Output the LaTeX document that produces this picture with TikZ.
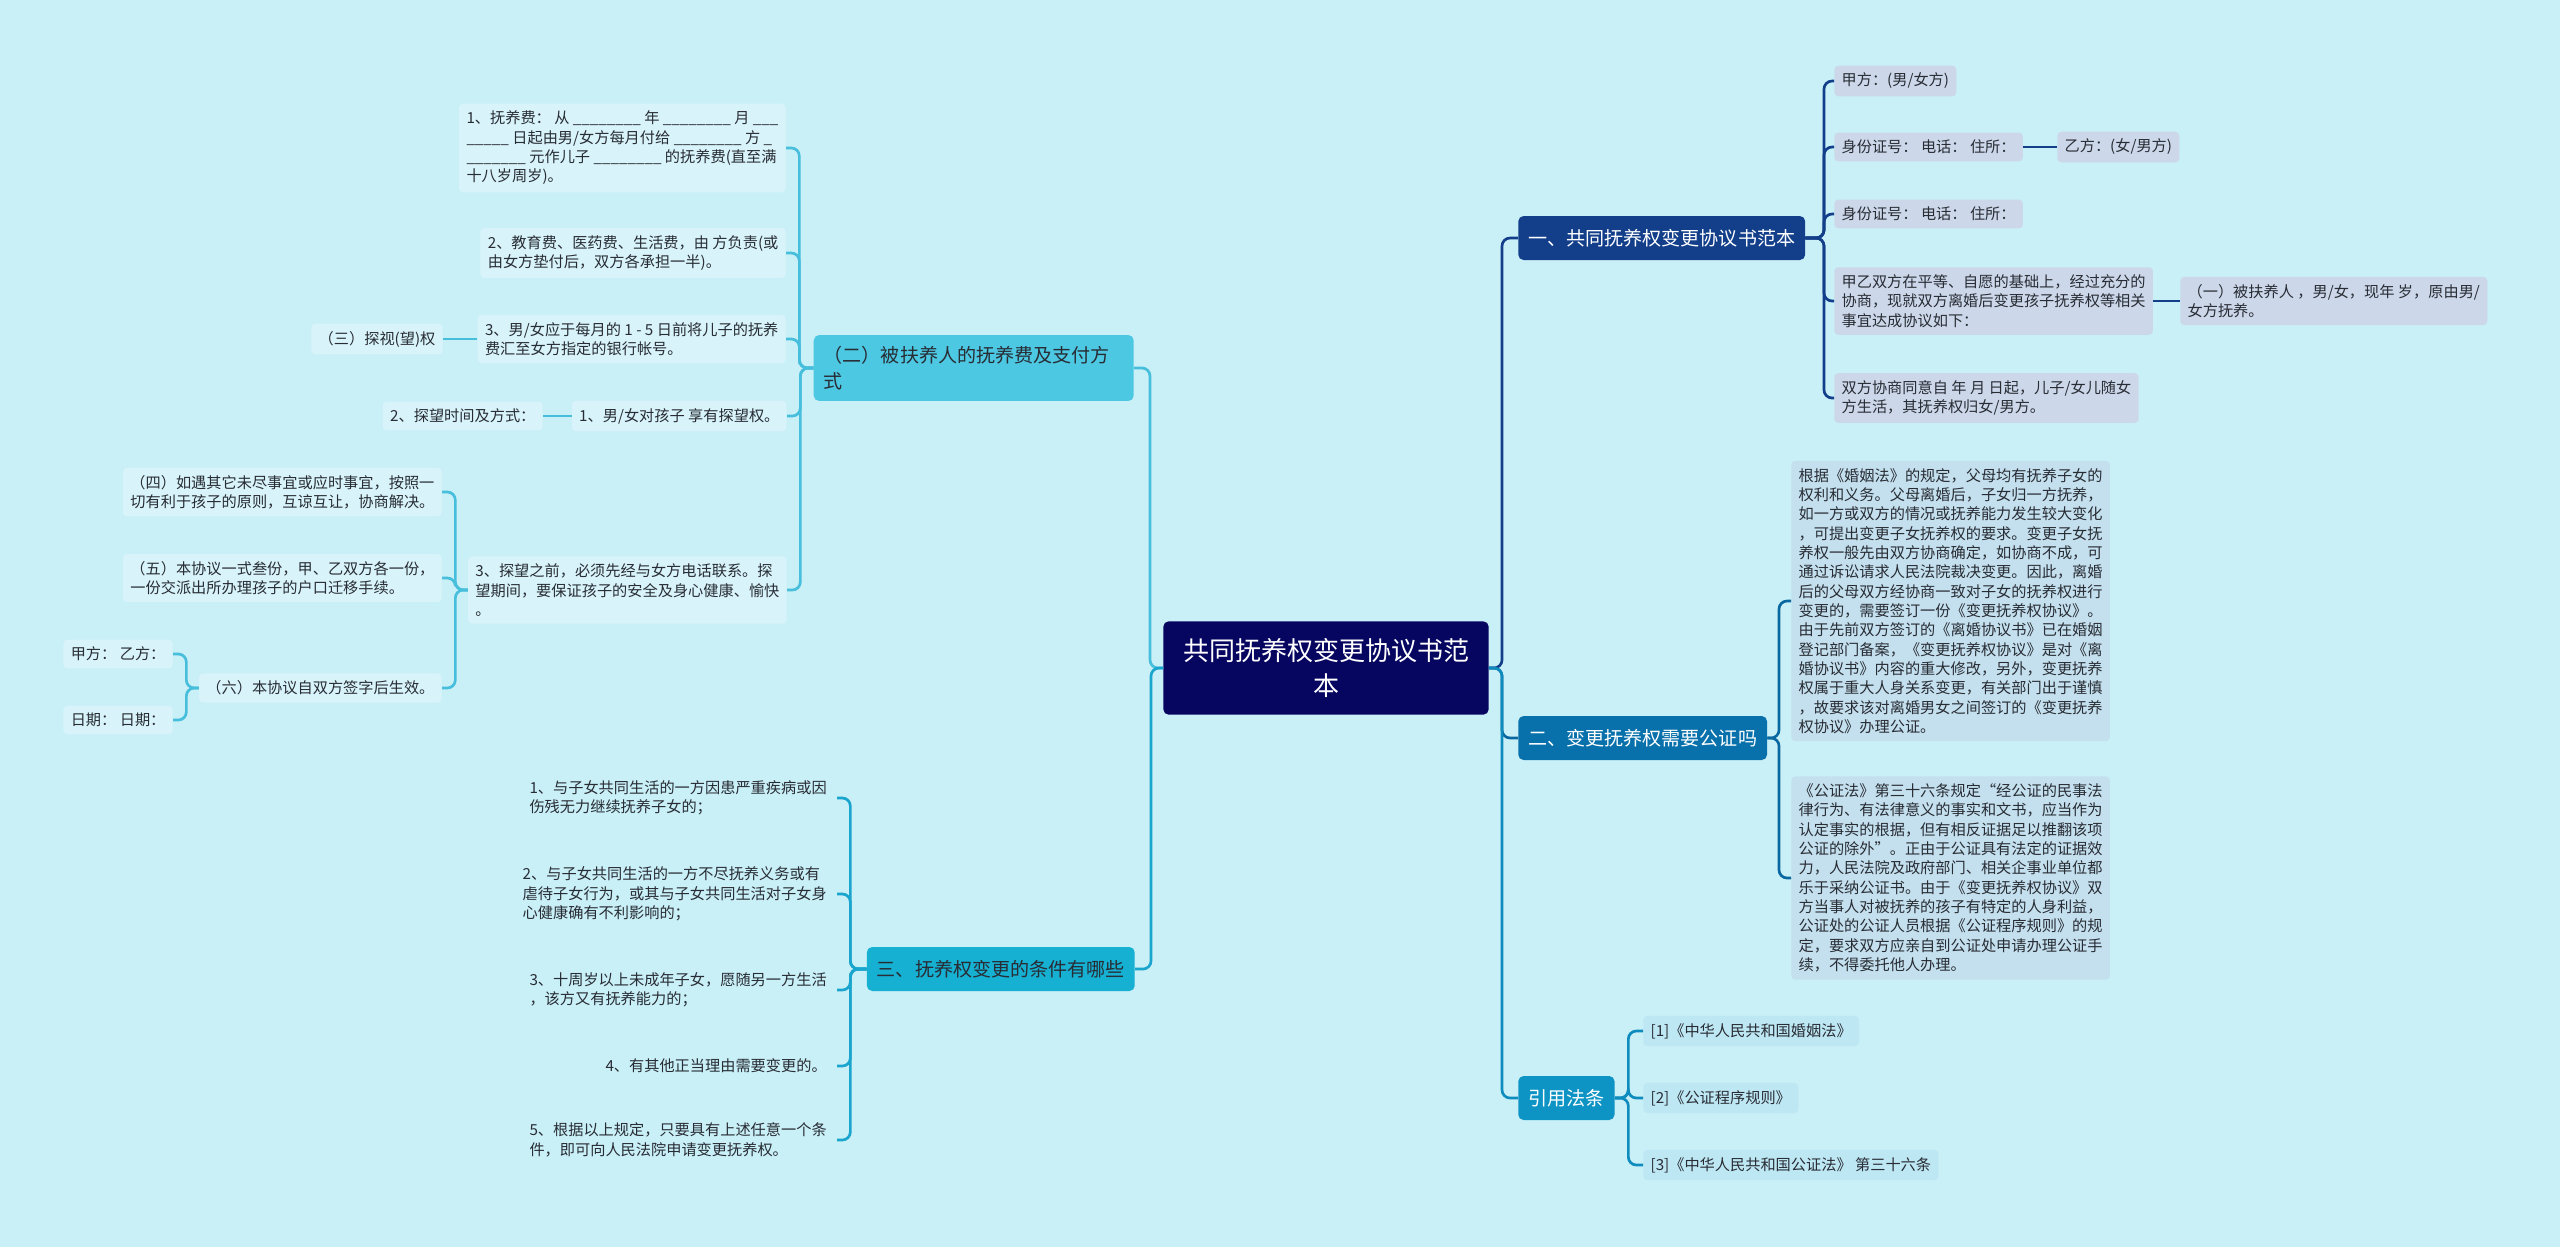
\documentclass[tikz,border=0pt]{standalone}
\usepackage{fontspec}
\setmainfont{Noto Sans CJK SC}

\definecolor{bgc}{RGB}{201,239,247}
\definecolor{rootc}{RGB}{6,6,96}
\definecolor{bonec}{RGB}{18,62,138}
\definecolor{btwoc}{RGB}{8,112,170}
\definecolor{bthreec}{RGB}{14,148,196}
\definecolor{lfeec}{RGB}{76,200,226}
\definecolor{lcondc}{RGB}{22,176,210}
\definecolor{leafac}{RGB}{204,216,234}
\definecolor{leafbc}{RGB}{196,224,238}
\definecolor{leafcc}{RGB}{190,231,244}
\definecolor{leafdc}{RGB}{216,244,250}
\definecolor{inkc}{RGB}{40,44,52}
\newcommand\blanks{\_\_\_\_\_\_\_\_}

\begin{document}
\begin{tikzpicture}[x=0.75pt,y=-0.75pt,
  every node/.style={font=\fontsize{11.4}{14.5}\selectfont,align=left,rounded corners=3pt,inner xsep=5.5pt,inner ysep=5.5pt,text=inkc},
  rootbox/.style={fill=rootc,text=white,font=\fontsize{19.5}{26}\selectfont,align=center,minimum width=244pt,minimum height=70pt,rounded corners=4pt},
  brbox/.style={text=white,font=\fontsize{14.3}{20}\selectfont,minimum height=33pt,inner xsep=7.5pt,inner ysep=8pt,rounded corners=4pt},
  leafa/.style={fill=leafac,anchor=west},
  leafb/.style={fill=leafbc,anchor=west},
  leafc/.style={fill=leafcc,anchor=west},
  leafd/.style={fill=leafdc,anchor=east},
  leafe/.style={anchor=east,inner xsep=7.5pt},
  lnone/.style={draw=bonec,line width=2pt,rounded corners=6pt},
  lntwo/.style={draw={rgb,255:red,10;green,104;blue,160},line width=2pt,rounded corners=6pt},
  lnthree/.style={draw={rgb,255:red,14;green,140;blue,190},line width=2pt,rounded corners=6pt},
  lnfee/.style={draw={rgb,255:red,70;green,190;blue,220},line width=2pt,rounded corners=6pt},
  lncond/.style={draw={rgb,255:red,25;green,165;blue,205},line width=2pt,rounded corners=6pt}]
  \fill[bgc] (0,0) rectangle (2560,1247);
  \useasboundingbox (0,0) rectangle (2560,1247);

  \node[rootbox] (root) at (1326,668) {共同抚养权变更协议书范\\本};

  % right side
  \node[brbox,fill=bonec,anchor=west] (xieyi) at (1518,238) {一、共同抚养权变更协议书范本};
  \node[brbox,fill=btwoc,anchor=west] (gongzheng) at (1518,738) {二、变更抚养权需要公证吗};
  \node[brbox,fill=bthreec,anchor=west] (fatiao) at (1518,1098) {引用法条};

  \node[leafa] (jiafang) at (1834,81) {甲方：(男/女方)};
  \node[leafa] (sfzone) at (1834,147) {身份证号：~电话：~住所：};
  \node[leafa] (yifang) at (2057,147) {乙方：(女/男方)};
  \node[leafa] (sfztwo) at (1834,214) {身份证号：~电话：~住所：};
  \node[leafa] (pingdeng) at (1834,301) {甲乙双方在平等、自愿的基础上，经过充分的\\协商，现就双方离婚后变更孩子抚养权等相关\\事宜达成协议如下：};
  \node[leafa] (beifu) at (2180,301) {（一）被扶养人 ，男/女，现年 岁，原由男/\\女方抚养。};
  \node[leafa] (tongyi) at (1834,398) {双方协商同意自 年 月 日起，儿子/女儿随女\\方生活，其抚养权归女/男方。};

  \node[leafb] (hunyinfa) at (1791,601) {根据《婚姻法》的规定，父母均有抚养子女的\\权利和义务。父母离婚后，子女归一方抚养，\\如一方或双方的情况或抚养能力发生较大变化\\，可提出变更子女抚养权的要求。变更子女抚\\养权一般先由双方协商确定，如协商不成，可\\通过诉讼请求人民法院裁决变更。因此，离婚\\后的父母双方经协商一致对子女的抚养权进行\\变更的，需要签订一份《变更抚养权协议》。\\由于先前双方签订的《离婚协议书》已在婚姻\\登记部门备案，《变更抚养权协议》是对《离\\婚协议书》内容的重大修改，另外，变更抚养\\权属于重大人身关系变更，有关部门出于谨慎\\，故要求该对离婚男女之间签订的《变更抚养\\权协议》办理公证。};
  \node[leafb] (gongzhengfa) at (1791,878) {《公证法》第三十六条规定“经公证的民事法\\律行为、有法律意义的事实和文书，应当作为\\认定事实的根据，但有相反证据足以推翻该项\\公证的除外”。正由于公证具有法定的证据效\\力，人民法院及政府部门、相关企事业单位都\\乐于采纳公证书。由于《变更抚养权协议》双\\方当事人对被抚养的孩子有特定的人身利益，\\公证处的公证人员根据《公证程序规则》的规\\定，要求双方应亲自到公证处申请办理公证手\\续，不得委托他人办理。};

  \node[leafc] (refone) at (1643,1031) {[1]《中华人民共和国婚姻法》};
  \node[leafc] (reftwo) at (1643,1098) {[2]《公证程序规则》};
  \node[leafc] (refthree) at (1643,1165) {[3]《中华人民共和国公证法》 第三十六条};

  % left side
  \node[brbox,fill=lfeec,text=inkc,anchor=east,text width=225pt,align=left] (fuyangfei) at (1134,368) {（二）被扶养人的抚养费及支付方\\式};
  \node[brbox,fill=lcondc,text=inkc,anchor=east] (tiaojian) at (1135,969) {三、抚养权变更的条件有哪些};

  \node[leafd] (feione) at (786,148) {1、抚养费：~从 \blanks\ 年 \blanks\ 月 \_\_\_\\\_\_\_\_\_ 日起由男/女方每月付给 \blanks\ 方 \_\\\_\_\_\_\_\_\_ 元作儿子 \blanks\ 的抚养费(直至满\\十八岁周岁)。};
  \node[leafd] (feitwo) at (786,253) {2、教育费、医药费、生活费，由 方负责(或\\由女方垫付后，双方各承担一半)。};
  \node[leafd] (feithree) at (786,339) {3、男/女应于每月的 1 - 5 日前将儿子的抚养\\费汇至女方指定的银行帐号。};
  \node[leafd] (tanshi) at (443,339) {（三）探视(望)权};
  \node[leafd] (twone) at (787,416) {1、男/女对孩子 享有探望权。};
  \node[leafd] (twfangshi) at (543,416) {2、探望时间及方式：};
  \node[leafd] (twthree) at (787,590) {3、探望之前，必须先经与女方电话联系。探\\望期间，要保证孩子的安全及身心健康、愉快\\。};
  \node[leafd] (xsi) at (442,492) {（四）如遇其它未尽事宜或应时事宜，按照一\\切有利于孩子的原则，互谅互让，协商解决。};
  \node[leafd] (xwu) at (442,578) {（五）本协议一式叁份，甲、乙双方各一份，\\一份交派出所办理孩子的户口迁移手续。};
  \node[leafd] (xliu) at (442,688) {（六）本协议自双方签字后生效。};
  \node[leafd] (qzone) at (173,654) {甲方：~乙方：};
  \node[leafd] (qztwo) at (173,720) {日期：~日期：};

  \node[leafe] (tjone) at (837,798) {1、与子女共同生活的一方因患严重疾病或因\\伤残无力继续抚养子女的；};
  \node[leafe] (tjtwo) at (837,894) {2、与子女共同生活的一方不尽抚养义务或有\\虐待子女行为，或其与子女共同生活对子女身\\心健康确有不利影响的；};
  \node[leafe] (tjthree) at (837,990) {3、十周岁以上未成年子女，愿随另一方生活\\，该方又有抚养能力的；};
  \node[leafe] (tjfour) at (837,1066) {4、有其他正当理由需要变更的。};
  \node[leafe] (tjfive) at (837,1140) {5、根据以上规定，只要具有上述任意一个条\\件，即可向人民法院申请变更抚养权。};

  % connectors
  \draw[lnone] (root.east) -| ([xshift=-12pt]xieyi.west) -- (xieyi.west);
  \draw[lntwo] (root.east) -| ([xshift=-12pt]gongzheng.west) -- (gongzheng.west);
  \draw[lnthree] (root.east) -| ([xshift=-12pt]fatiao.west) -- (fatiao.west);
  \draw[lnfee] (root.west) -| ([xshift=12pt]fuyangfei.east) -- (fuyangfei.east);
  \draw[lncond] (root.west) -| ([xshift=12pt]tiaojian.east) -- (tiaojian.east);

  \foreach \c in {jiafang,sfzone,sfztwo,pingdeng,tongyi}
    \draw[lnone] (xieyi.east) -| ([xshift=-7.5pt]\c.west) -- (\c.west);
  \draw[lnone] (sfzone.east) -- (yifang.west); \draw[lnone] (pingdeng.east) -- (beifu.west);
  \foreach \c in {hunyinfa,gongzhengfa}
    \draw[lntwo] (gongzheng.east) -| ([xshift=-9pt]\c.west) -- (\c.west);
  \foreach \c in {refone,reftwo,refthree}
    \draw[lnthree] (fatiao.east) -| ([xshift=-11pt]\c.west) -- (\c.west);

  \foreach \c in {feione,feitwo,feithree,twone,twthree}
    \draw[lnfee] (fuyangfei.west) -| ([xshift=10pt]\c.east) -- (\c.east);
  \draw[lnfee] (feithree.west) -- (tanshi.east); \draw[lnfee] (twone.west) -- (twfangshi.east);
  \foreach \c in {xsi,xwu,xliu}
    \draw[lnfee] (twthree.west) -| ([xshift=10pt]\c.east) -- (\c.east);
  \foreach \c in {qzone,qztwo}
    \draw[lnfee] (xliu.west) -| ([xshift=10pt]\c.east) -- (\c.east);
  \foreach \c in {tjone,tjtwo,tjthree,tjfour,tjfive}
    \draw[lncond] (tiaojian.west) -| ([xshift=10pt]\c.east) -- (\c.east);
\end{tikzpicture}
\end{document}
